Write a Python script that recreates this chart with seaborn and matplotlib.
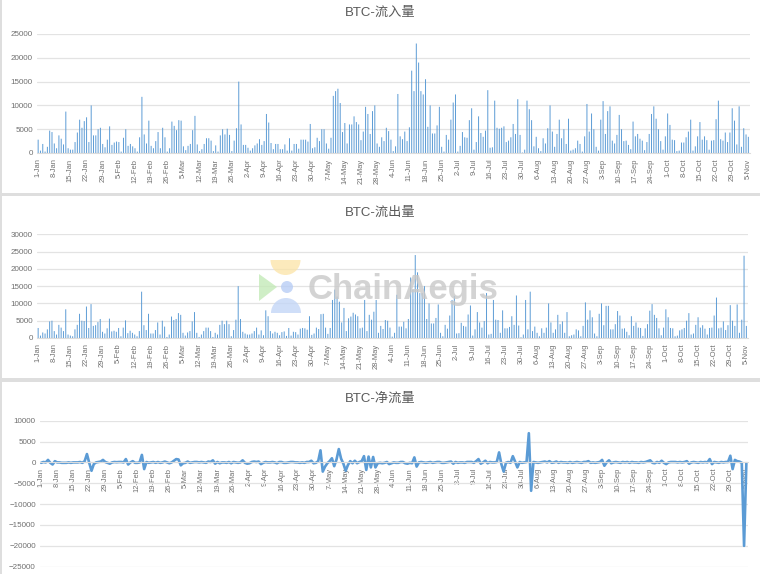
import numpy as np
import pandas as pd
import matplotlib
matplotlib.use("Agg")
import matplotlib.pyplot as plt
from matplotlib.patches import Rectangle, Circle, Polygon, Wedge
import seaborn as sns

sns.set_theme(style="white")
plt.rcParams["font.family"] = ["Liberation Sans", "Noto Sans CJK SC", "DejaVu Sans"]

# daily values, 1 Jan to 5 Nov
inflow = [
    2800, 500, 1900, 300, 1300, 4700, 4400, 2000, 1000, 3700,
    3000, 1800, 8700, 1000, 700, 700, 2300, 4300, 7000, 5300,
    6700, 7500, 2300, 10000, 3700, 3700, 5000, 5300, 1900, 1200,
    2800, 5600, 1700, 2200, 2400, 2300, 300, 3200, 5000, 1500,
    1900, 1400, 1000, 300, 3300, 11800, 3900, 2000, 6800, 1500,
    1000, 2500, 4400, 1000, 5300, 3300, 300, 1000, 6600, 5700,
    4800, 6900, 6800, 1400, 600, 1500, 1900, 4800, 7800, 1800,
    400, 800, 1900, 3100, 3100, 2600, 400, 1600, 300, 3700,
    5000, 3900, 5100, 3800, 400, 2600, 5200, 15000, 6000, 1700,
    1700, 1100, 500, 1000, 1600, 2000, 2900, 1700, 2500, 8200,
    6400, 2100, 800, 1900, 1900, 800, 800, 1800, 500, 3100,
    500, 1900, 1900, 900, 2800, 2800, 2800, 2400, 6100, 1000,
    1200, 3200, 2500, 5000, 5000, 2000, 900, 3200, 12000, 13000,
    13500, 10500, 4400, 6300, 2000, 6000, 6000, 7700, 6500, 6000,
    2700, 4500, 9700, 8200, 4000, 8800, 10000, 2000, 1300, 3300,
    2500, 5300, 4600, 2800, 400, 1400, 12400, 3500, 2900, 4500,
    2500, 5400, 17300, 13000, 23000, 19000, 13000, 12300, 15500, 5500,
    10000, 4100, 4100, 5800, 9700, 1300, 300, 3800, 2800, 7000,
    10600, 12300, 300, 1500, 4400, 3300, 3200, 6900, 9400, 700,
    2300, 7700, 4200, 3400, 4700, 13200, 1100, 1200, 11000, 5300,
    5100, 5300, 5600, 2300, 2600, 3300, 6100, 4000, 11300, 3800,
    100, 700, 11000, 9200, 6900, 1400, 3400, 1000, 400, 3100,
    2000, 5200, 10000, 4500, 1300, 4000, 7000, 3100, 5000, 1900,
    7200, 500, 700, 1000, 2600, 1900, 300, 3500, 10300, 4500,
    8300, 5000, 1300, 500, 7000, 10900, 4000, 8800, 9800, 2600,
    2000, 3800, 8000, 5000, 2500, 2600, 1700, 800, 6600, 3500,
    4000, 3000, 2600, 600, 2300, 4000, 8200, 9800, 7200, 5000,
    2500, 700, 3500, 8300, 5900, 2800, 2700, 400, 500, 2200,
    2200, 3300, 4500, 7000, 500, 1400, 3500, 6500, 2800, 3500,
    2700, 700, 2600, 2700, 7100, 11000, 2900, 2600, 4300, 2300,
    4300, 9400, 6800, 1800, 9800, 1300, 5200, 3900, 3400,
]
outflow = [
    2900, 700, 1600, 1300, 2500, 4800, 5000, 2000, 1000, 3800,
    3000, 2000, 8300, 1000, 700, 500, 2500, 3800, 7000, 5000,
    4900, 9100, 2900, 9800, 3500, 3700, 4600, 5500, 1800, 1300,
    2800, 5600, 1900, 2100, 1800, 2900, 500, 3000, 5100, 1400,
    2100, 1500, 1000, 500, 2000, 13400, 3700, 2300, 7000, 1300,
    1300, 2300, 4500, 1000, 5000, 3300, 300, 1000, 6200, 5200,
    5500, 7200, 6700, 1500, 700, 1600, 2000, 4800, 7500, 1500,
    300, 1000, 2000, 3000, 3000, 2000, 300, 1500, 1000, 3800,
    5000, 4000, 5000, 4000, 500, 2300, 5300, 15000, 5500, 1800,
    1300, 1000, 1000, 1300, 2000, 3000, 1000, 2200, 800, 8000,
    6300, 2000, 1300, 1800, 1500, 800, 1700, 1900, 600, 2900,
    700, 1800, 1700, 1000, 2700, 2900, 2800, 2400, 6300, 900,
    1300, 3000, 2600, 6900, 7000, 3000, 1200, 2900, 11000, 14000,
    12000, 10500, 4500, 8700, 2000, 5700, 6200, 7300, 6800, 6300,
    2800, 3000, 11000, 2000, 6700, 5300, 7600, 11000, 1500, 3500,
    2600, 5200, 5000, 3000, 400, 1500, 12500, 3300, 3300, 4700,
    2800, 5500, 17500, 14000, 24000, 19000, 13000, 13000, 15000, 5500,
    10000, 4200, 4200, 5800, 9700, 1500, 500, 3800, 2700, 6500,
    11000, 12200, 1300, 1400, 4400, 3500, 3300, 6800, 9400, 700,
    2500, 7500, 4500, 3000, 4900, 13000, 1000, 1200, 11000, 5300,
    5200, 1500, 8000, 2800, 2800, 3200, 6300, 3800, 12300, 3600,
    200, 1000, 11000, 2500, 13400, 2000, 3300, 1500, 500, 2800,
    1500, 3000, 10000, 4500, 1500, 2500, 6700, 4000, 4800, 1500,
    7500, 500, 800, 1000, 2500, 2200, 500, 3500, 10300, 5300,
    8000, 6000, 1300, 500, 7000, 10000, 3700, 9300, 9300, 2500,
    2500, 4000, 7800, 6500, 2700, 2800, 1800, 800, 6300, 3500,
    4500, 3000, 2900, 600, 2800, 4000, 7900, 9800, 6700, 5800,
    2800, 800, 3000, 8300, 6000, 2900, 2800, 500, 700, 2200,
    2500, 2900, 5000, 7200, 1000, 1300, 3800, 6000, 3000, 3700,
    2700, 1000, 2900, 3000, 6500, 11700, 2800, 3000, 4800, 2300,
    3700, 9500, 5000, 3500, 9700, 1500, 5300, 23800, 3500,
]
netflow = [
    -100, 100, 0, 600, -100, -500, 300, 0, 0, -100,
    -100, -100, 0, -100, 0, 0, 0, 100, -100, 300,
    2000, -100, -2000, -400, 0, 100, 200, 600, 100, -100,
    -300, 0, 100, 50, 100, 100, 0, 800, -500, 0,
    300, -100, -100, 0, 1800, -1600, 100, -100, 0, 100,
    -100, 100, -100, 0, 200, 0, -200, 0, 400, 800,
    700, -700, -200, -100, 200, -100, 0, 100, 100, 0,
    100, 0, -100, 200, 100, 500, -300, 100, -200, 0,
    0, -100, 100, -200, 100, 0, -100, 0, 500, -100,
    -300, -200, 100, 200, 100, 200, -400, -100, 100, 0,
    0, 100, 0, -200, 100, 100, -100, -100, 0, 100,
    100, 0, 0, -100, 0, -100, 100, 100, 400, -200,
    -100, 300, 2900, -2200, -1000, -200, 300, 1000, -900, 700,
    3200, 900, -300, -2000, -600, 300, -200, 400, -200, 100,
    300, 1500, -1800, 1400, -1200, 1300, -1200, -200, -100, -200,
    -100, 100, -400, -200, 0, -100, -100, 100, 100, -200,
    -300, -100, -200, 1200, -1000, 0, 100, 0, -100, 0,
    100, -100, 0, 100, 100, -100, -100, 0, 100, 200,
    -300, 100, -100, 0, 0, -100, 100, 100, 100, -100,
    300, 800, -300, 0, 400, -200, 100, 0, 0, 100,
    2400, -400, -2200, -100, 100, -100, 1500, 200, -1200, 100,
    -100, 0, 100, 7000, -6800, 100, 0, -100, 0, 100,
    200, 0, 300, -100, 0, 200, -100, 100, 0, 0,
    -100, 100, -100, 0, 100, 0, -100, 100, 100, 300,
    -100, 0, -100, 0, 100, 600, -800, 0, 500, -200,
    0, 100, 0, -100, 100, 0, 100, -100, 100, 0,
    0, -100, 100, 0, 100, 300, 500, -100, -200, 100,
    -100, 400, -100, -400, 0, 100, 100, 100, 0, 100,
    0, 100, 300, -300, 0, 100, 0, -100, 100, 0,
    100, 0, 800, -400, 100, 0, -100, 100, 0, 100,
    100, 1600, -1600, 600, 300, 200, -100, -20000, -200,
]

days = pd.date_range("2023-01-01", periods=len(inflow)).strftime("%-d-%b").tolist()
tick_days = list(range(0, len(days), 7))
tick_labels = [days[i] for i in tick_days]

BLUE = "#5B9BD5"
GREY = "#6f6f6f"
W, H = 760, 574


def ax_box(left, right, top, bottom):
    return [left / W, 1 - bottom / H, (right - left) / W, (bottom - top) / H]


def style(ax, yticks):
    ax.set_xlim(-0.5, len(days) - 0.5)
    ax.set_yticks(yticks)
    ax.set_xticks(tick_days)
    ax.set_xticklabels(tick_labels, rotation=90, fontsize=5.4, color=GREY)
    ax.tick_params(axis="y", labelsize=5.8, labelcolor=GREY, length=0, pad=3)
    ax.tick_params(axis="x", length=0, pad=4)
    ax.grid(axis="y", color="#e3e3e3", lw=0.9)
    ax.set_axisbelow(True)
    ax.set_xlabel("")
    ax.set_ylabel("")
    for side in ["top", "left", "right"]:
        ax.spines[side].set_visible(False)
    ax.spines["bottom"].set_color("#dcdcdc")
    ax.spines["bottom"].set_linewidth(0.8)
    ax.patch.set_alpha(0)


def thin_bars(ax):
    # unsnapped so the sub-pixel bars come out soft, some pale, some dark
    for bar in ax.patches:
        bar.set_snap(False)


fig = plt.figure(figsize=(W / 100, H / 100), dpi=100, facecolor="white")

# grey frame of the three pasted panels
for rect in [(0, 192.5, W, 3.5), (0, 378, W, 3.5), (0, 0, 2, H)]:
    x, y, w, h = rect
    fig.add_artist(Rectangle((x / W, 1 - (y + h) / H), w / W, h / H,
                             transform=fig.transFigure, color="#dedede", lw=0))

ax1 = fig.add_axes(ax_box(37, 749.5, 34, 153))
sns.barplot(x=days, y=inflow, color=BLUE, width=0.42, saturation=1, linewidth=0, ax=ax1)
ax1.set_ylim(0, 25000)
style(ax1, [0, 5000, 10000, 15000, 20000, 25000])
thin_bars(ax1)

ax2 = fig.add_axes(ax_box(37, 747.5, 234.3, 338))
sns.barplot(x=days, y=outflow, color=BLUE, width=0.42, saturation=1, linewidth=0, ax=ax2)
ax2.set_ylim(0, 30000)
style(ax2, [0, 5000, 10000, 15000, 20000, 25000, 30000])
thin_bars(ax2)

ax3 = fig.add_axes(ax_box(40, 747.5, 420.7, 566.7))
sns.lineplot(x=np.arange(len(days)), y=netflow, color=BLUE, lw=1.9, ax=ax3)
ax3.set_ylim(-25000, 10000)
# moving the spine resets the ticks, so this comes before the styling
ax3.spines["bottom"].set_position(("data", 0))
style(ax3, [-25000, -20000, -15000, -10000, -5000, 0, 5000, 10000])

for title, y in [("BTC-流入量", 13), ("BTC-流出量", 213), ("BTC-净流量", 399)]:
    fig.text(380 / W, 1 - y / H, title, ha="center", va="center",
             fontsize=9.5, color="#595959")

# ChainAegis watermark over the middle panel
wm = fig.add_axes([0, 0, 1, 1], facecolor="none", zorder=5)
wm.set_xlim(0, W)
wm.set_ylim(H, 0)
wm.axis("off")
wm.add_patch(Wedge((285.5, 260), 15, 0, 180, color="#fbe3a6", alpha=0.75, lw=0))
wm.add_patch(Polygon([(259, 274), (277, 287), (259, 301)], closed=True,
                     color="#c4eab8", alpha=0.8, lw=0))
wm.add_patch(Circle((287, 287), 6, color="#b8cdf5", alpha=0.8, lw=0))
wm.add_patch(Wedge((286, 313), 15, 180, 360, color="#c3d6f7", alpha=0.8, lw=0))
wm.text(308, 290, "ChainAegis", fontsize=25, fontweight="bold",
        family=["Liberation Sans"], color="#c9c9c9", alpha=0.8, va="center", ha="left")

fig.savefig("out.png", dpi=100)
